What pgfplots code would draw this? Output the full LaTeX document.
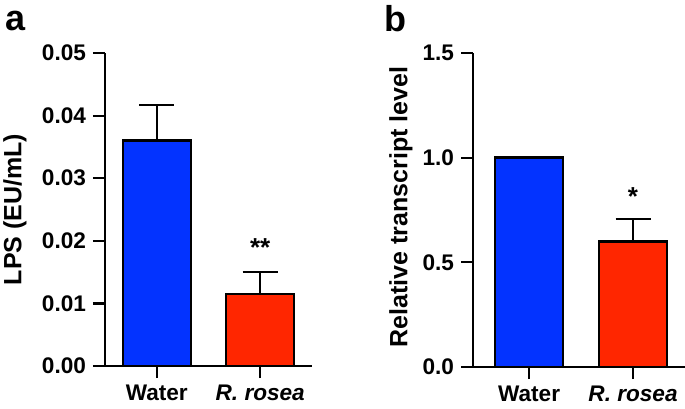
\documentclass[border=0pt]{standalone}
\usepackage{pgfplots}
\pgfplotsset{compat=1.18}
\usepackage{fontspec}
\setmainfont{Liberation Sans}
\definecolor{barblue}{RGB}{3,51,255}
\definecolor{barred}{RGB}{255,38,0}

\pgfplotsset{
  panel/.style={
    scale only axis,
    anchor=south west,
    clip=false,
    axis x line=bottom, axis y line=left,
    axis line style={line width=1.1pt, -},
    tick style={line width=1.1pt, black},
    major tick length=6pt,
    tick align=outside,
    ybar, bar shift=0pt, bar width=34pt,
    xtick={0,1},
    xticklabels={Water, \textit{R. rosea}},
    ticklabel style={font=\fontsize{11.3}{13}\selectfont\bfseries},
    /pgf/number format/assume math mode=true,
    scaled y ticks=false,
    ymin=0,
  },
  bars/.style={draw=black, line width=1.2pt,
    error bars/.cd, y dir=plus, y explicit,
    error bar style={line width=0.85pt, black},
    error mark options={rotate=90, line width=0.85pt, black, mark size=8.75pt}},
}

\begin{document}
\begin{tikzpicture}
\useasboundingbox (0,0) rectangle (342.5pt,204pt);

% panel a
\begin{axis}[panel,
  at={(52.5pt,21pt)},
  width=103.5pt, height=156.5pt,
  xmin=-0.5, xmax=1.5,
  ymax=0.05,
  ytick={0,0.01,0.02,0.03,0.04,0.05},
  yticklabel style={/pgf/number format/fixed, /pgf/number format/fixed zerofill, /pgf/number format/precision=2},
  ylabel={LPS (EU/mL)},
  every axis y label/.style={at={(axis description cs:-0.435,0.5)}, rotate=90, anchor=center,
    font=\fontsize{12.5}{14}\selectfont\bfseries},
]
  \addplot[fill=barblue, bars] coordinates {(0,0.036) +- (0,0.0057)};
  \addplot[fill=barred, bars] coordinates {(1,0.0115) +- (0,0.0035)};
  \node[anchor=north, inner sep=0pt, font=\fontsize{13}{15}\selectfont\bfseries] at (axis cs:1,0.02045) {**};
\end{axis}

% panel b
\begin{axis}[panel,
  at={(236.5pt,20.5pt)},
  width=106pt, height=157pt,
  xmin=-0.54, xmax=1.5,
  ymax=1.5,
  ytick={0,0.5,1,1.5},
  yticklabel style={/pgf/number format/fixed, /pgf/number format/fixed zerofill, /pgf/number format/precision=1},
  ylabel={Relative transcript level},
  every axis y label/.style={at={(axis description cs:-0.34,0.51)}, rotate=90, anchor=center,
    font=\fontsize{12.5}{14}\selectfont\bfseries},
]
  \addplot[fill=barblue, bars] coordinates {(0,1.0)};
  \addplot[fill=barred, bars] coordinates {(1,0.60) +- (0,0.107)};
  \node[anchor=north, inner sep=0pt, font=\fontsize{13}{15}\selectfont\bfseries] at (axis cs:1,0.861) {*};
\end{axis}

\node[anchor=base, font=\fontsize{18}{20}\selectfont\bfseries] at (8pt,189pt) {a};
\node[anchor=base, font=\fontsize{18}{20}\selectfont\bfseries] at (197.5pt,188pt) {b};
\end{tikzpicture}
\end{document}
